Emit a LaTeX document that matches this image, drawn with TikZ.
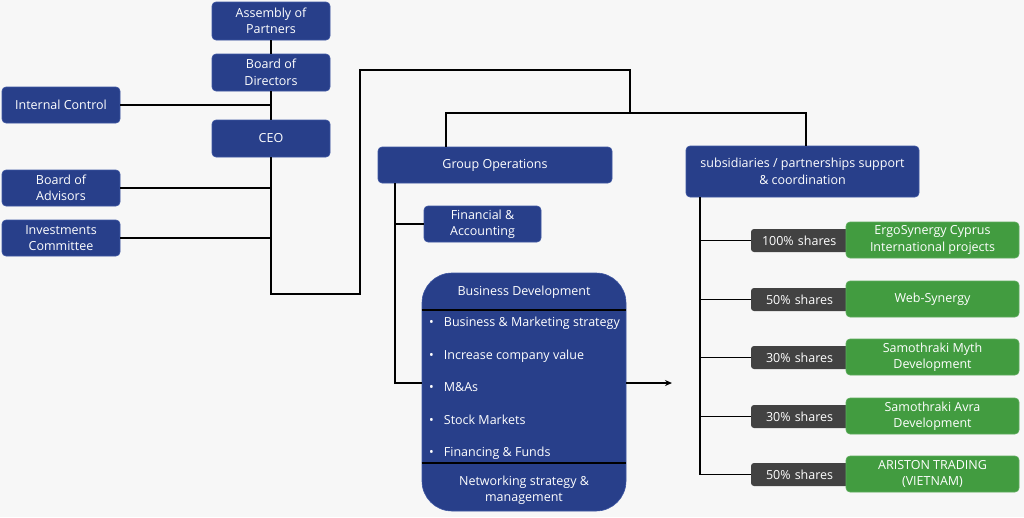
\documentclass[tikz,border=0pt]{standalone}
\usepackage{fontspec}
\setmainfont{Open Sans}
\usetikzlibrary{arrows.meta}
\definecolor{bgc}{RGB}{247,247,247}
\definecolor{bluebox}{RGB}{40,63,138}
\definecolor{blueedge}{RGB}{62,86,162}
\definecolor{greenbox}{RGB}{66,156,64}
\definecolor{graybox}{RGB}{66,66,66}
\begin{document}
\begin{tikzpicture}[x=1pt,y=-1pt,
  txt/.style={font=\fontsize{12.5}{16.5}\selectfont, text=white, align=center, inner sep=0pt},
  bbox/.style={txt, rectangle, rounded corners=4pt, fill=bluebox, draw=blueedge, line width=0.6pt},
  gbox/.style={txt, rectangle, rounded corners=4pt, fill=greenbox, draw=greenbox!85!white, line width=0.6pt, minimum width=173pt, minimum height=36pt},
  sbox/.style={txt, rectangle, rounded corners=3pt, fill=graybox, minimum width=99pt, minimum height=23pt, text width=77pt, align=left},
  conn/.style={draw=black, line width=1.6pt},
  item/.style={txt, anchor=base west, align=left}
]
\useasboundingbox[fill=bgc] (0,0) rectangle (1024,517);

% left column
\node[bbox, minimum width=118pt, minimum height=38pt] (ap) at (271,21) {Assembly of\\Partners};
\node[bbox, minimum width=118pt, minimum height=37pt] (bd) at (271,72.5) {Board of\\Directors};
\node[bbox, minimum width=118pt, minimum height=36pt] (ic) at (61,105) {Internal Control};
\node[bbox, minimum width=118pt, minimum height=37pt] (ceo) at (271,138.5) {CEO};
\node[bbox, minimum width=118pt, minimum height=36pt] (ba) at (61,188) {Board of\\Advisors};
\node[bbox, minimum width=118pt, minimum height=36pt] (inv) at (61,238) {Investments\\Committee};

% group level
\node[bbox, minimum width=234pt, minimum height=36pt] (go) at (495,165) {Group Operations};
\node[bbox, minimum width=233pt, minimum height=51pt] (sub) at (802.5,171.5) {subsidiaries / partnerships support\\\& coordination};
\node[bbox, minimum width=117pt, minimum height=36pt] (fin) at (482.5,224) {Financial \&\\Accounting};

% business development
\node[fill=bluebox, draw=blueedge, line width=0.6pt, rounded corners=30pt, minimum width=204pt, minimum height=238pt, inner sep=0pt] (bdev) at (524,392) {};
\node[txt] (bdh) at (524,292.5) {Business Development};
\node[txt] (bdn) at (524,490) {Networking strategy \&\\management};
\coordinate (sepa) at (bdev.west |- 0,310);
\coordinate (sepb) at (bdev.west |- 0,463);
\draw[line width=1.6pt] (sepa) -- (sepa -| bdev.east);
\draw[line width=1.6pt] (sepb) -- (sepb -| bdev.east);
\node[item] (i1) at (429,326.5) {•\hspace{10pt}Business \& Marketing strategy};
\node[item] (i2) at (429,359.5) {•\hspace{10pt}Increase company value};
\node[item] (i3) at (429,391.5) {•\hspace{10pt}M\&As};
\node[item] (i4) at (429,424.5) {•\hspace{10pt}Stock Markets};
\node[item] (i5) at (429,456.5) {•\hspace{10pt}Financing \& Funds};

% subsidiaries
\node[sbox] (s1) at (800.5,240.5) {100\% shares};
\node[sbox] (s2) at (800.5,299.5) {\hspace{4pt}50\% shares};
\node[sbox] (s3) at (800.5,357.5) {\hspace{4pt}30\% shares};
\node[sbox] (s4) at (800.5,416.5) {\hspace{4pt}30\% shares};
\node[sbox] (s5) at (800.5,474.5) {\hspace{4pt}50\% shares};
\node[gbox] (g1) at (932.5,240) {ErgoSynergy Cyprus\\International projects};
\node[gbox] (g2) at (932.5,299) {Web-Synergy};
\node[gbox] (g3) at (932.5,357) {Samothraki Myth\\Development};
\node[gbox] (g4) at (932.5,416) {Samothraki Avra\\Development};
\node[gbox] (g5) at (932.5,474) {ARISTON TRADING\\(VIETNAM)};

% connectors, left part
\draw[conn] (ap.south) -- (bd.north);
\draw[conn] (bd.south) -- (ceo.north);
\draw[conn] (ic.east) -- (ic.east -| bd.south);
\draw[conn] (ba.east) -- (ba.east -| ceo.south);
\draw[conn] (inv.east) -- (inv.east -| ceo.south);
\coordinate (c1) at (271,294);
\coordinate (c2) at (360,294);
\coordinate (c3) at (360,70);
\coordinate (c4) at (630,70);
\coordinate (c5) at (630,113);
\draw[conn, line join=miter] (ceo.south) -- (c1) -- (c2) -- (c3) -- (c4) -- (c5);
\coordinate (gt) at (446,113);
\coordinate (stt) at (806,113);
\draw[conn, line join=miter] (gt |- go.north) -- (gt) -- (stt) -- (stt |- sub.north);

% group operations branch
\coordinate (gv) at (395,183);
\coordinate (gvb) at (395,383);
\draw[conn, line join=miter] (gv) -- (gvb) -- (gvb -| bdev.west);
\draw[conn] (gv |- fin.west) -- (fin.west);
\coordinate (arr) at (672,383);
\draw[conn, -{Stealth[length=7pt,width=6pt]}] (gvb -| bdev.east) -- (arr);

% subsidiaries branch
\coordinate (sv) at (700,197);
\draw[conn, line join=miter] (sv) -- (sv |- s5.west) -- (s5.west);
\foreach \s in {s1,s2,s3,s4}{
  \draw[conn] (sv |- \s.west) -- (\s.west);
}
\end{tikzpicture}
\end{document}
